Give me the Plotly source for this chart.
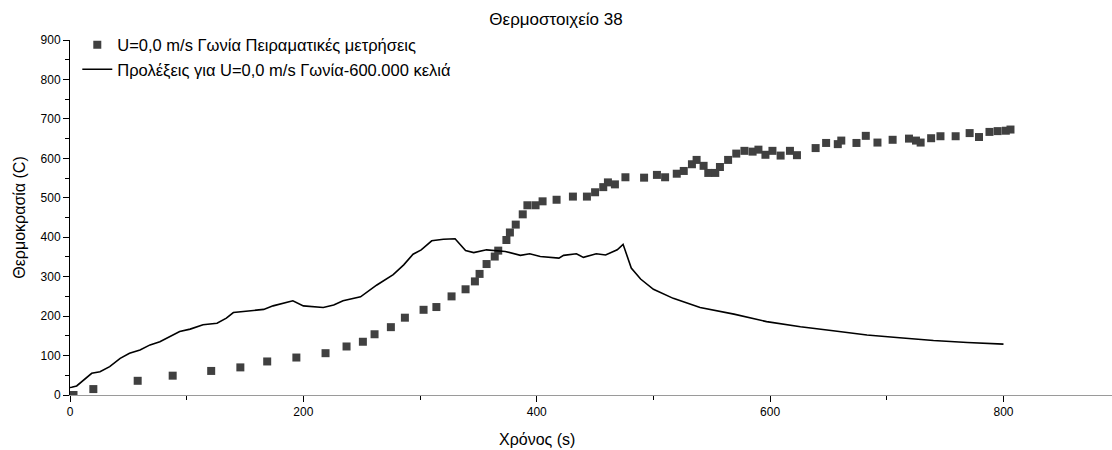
import plotly.graph_objects as go

# Measured thermocouple 38 readings (time in s, temperature in C)
meas_t = [3, 20, 58, 88, 121, 146, 169, 194, 219, 237, 251, 261, 275, 287, 303, 314,
          327, 339, 347, 351, 357, 364, 367, 374, 377, 382, 388, 392, 399, 405, 417,
          431, 443, 450, 457, 461, 467, 476, 492, 503, 510, 520, 526, 533, 537, 543,
          547, 553, 557, 564, 571, 578, 585, 590, 596, 602, 609, 617, 623, 639, 648,
          658, 661, 674, 682, 692, 705, 719, 725, 729, 738, 746, 759, 771, 779, 788,
          795, 802, 806]
meas_T = [0, 15, 36, 49, 61, 70, 85, 95, 106, 123, 135, 154, 172, 196, 216, 223,
          250, 268, 288, 307, 332, 351, 366, 393, 412, 432, 458, 481, 481, 491, 495,
          503, 503, 514, 527, 539, 534, 552, 551, 558, 552, 561, 568, 585, 596, 581,
          563, 563, 578, 596, 612, 619, 617, 622, 609, 619, 607, 619, 608, 626, 639,
          636, 645, 639, 657, 640, 647, 650, 645, 640, 651, 656, 656, 664, 654, 667,
          669, 670, 673]

# Simulation prediction (600.000 cells)
pred_t = [0, 1.4, 5.7, 12, 18.6, 25.7, 34, 43, 51, 60, 68.6, 77, 86, 94, 103, 114,
          126, 134, 140, 151, 166, 174, 191, 200, 217, 226, 234, 249, 263, 277, 286,
          294, 301, 310, 320, 330, 339, 346, 357, 373, 386, 394, 403, 419, 423, 434,
          440, 451, 459, 469, 474, 481, 489, 500, 517, 540, 569, 597, 626, 654, 683,
          711, 740, 769, 800]
pred_T = [19, 19.5, 23, 38, 55, 59, 72, 93, 106, 114, 127, 135, 148, 161, 167, 178,
          182, 195, 209, 213, 217, 226, 239, 226, 222, 228, 239, 249, 279, 305, 330,
          357, 368, 391, 395, 396, 366, 361, 368, 364, 354, 358, 351, 347, 354, 358,
          349, 358, 355, 368, 382, 322, 294, 268, 245, 222, 205, 186, 173, 163, 152,
          145, 138, 133, 129]

x_ticks = [0, 200, 400, 600, 800]
y_ticks = [0, 100, 200, 300, 400, 500, 600, 700, 800, 900]

FONT = "Arial, Liberation Sans, sans-serif"

fig = go.Figure()
fig.add_trace(go.Scatter(
    x=meas_t, y=meas_T, mode="markers",
    name="U=0,0 m/s Γωνία Πειραματικές μετρήσεις",
    marker=dict(symbol="square", size=8, color="#404040"),
))
fig.add_trace(go.Scatter(
    x=pred_t, y=pred_T, mode="lines",
    name="Προλέξεις για U=0,0 m/s Γωνία-600.000 κελιά",
    line=dict(color="black", width=1.6),
))

fig.update_layout(
    width=1112, height=450,
    margin=dict(l=70, r=0, t=40, b=55),
    plot_bgcolor="white", paper_bgcolor="white",
    font=dict(family=FONT, size=12, color="black"),
    title=dict(text="Θερμοστοιχείο 38", x=0.5, xanchor="center", y=0.958,
               yanchor="middle", font=dict(size=17)),
    showlegend=True,
    legend=dict(x=0.007, y=1.035, xanchor="left", yanchor="top",
                bgcolor="rgba(0,0,0,0)", font=dict(size=16.5),
                itemwidth=30, tracegroupgap=0),
)

fig.update_xaxes(
    range=[0, 893], tickvals=x_ticks, ticktext=[str(v) for v in x_ticks],
    showgrid=False, zeroline=False, showline=True, linecolor="#9a9a9a", linewidth=1,
    ticks="outside", ticklen=6, tickcolor="black", tickwidth=1,
    minor=dict(dtick=100, tick0=0, ticks="outside", ticklen=4, tickcolor="black"),
    tickfont=dict(size=12),
)
fig.update_yaxes(
    range=[0, 900], tickvals=y_ticks, ticktext=[str(v) for v in y_ticks],
    showgrid=False, zeroline=False, showline=True, linecolor="black", linewidth=1,
    ticks="outside", ticklen=6, tickcolor="black", tickwidth=1,
    minor=dict(dtick=50, tick0=0, ticks="outside", ticklen=4, tickcolor="black"),
    tickfont=dict(size=12),
    title=dict(text="Θερμοκρασία (C)", font=dict(size=16), standoff=10),
)

fig.add_annotation(
    text="Χρόνος (s)", x=400, xref="x", y=-0.124, yref="paper",
    yanchor="middle", showarrow=False, font=dict(size=16),
)

fig.write_html("out.html")
